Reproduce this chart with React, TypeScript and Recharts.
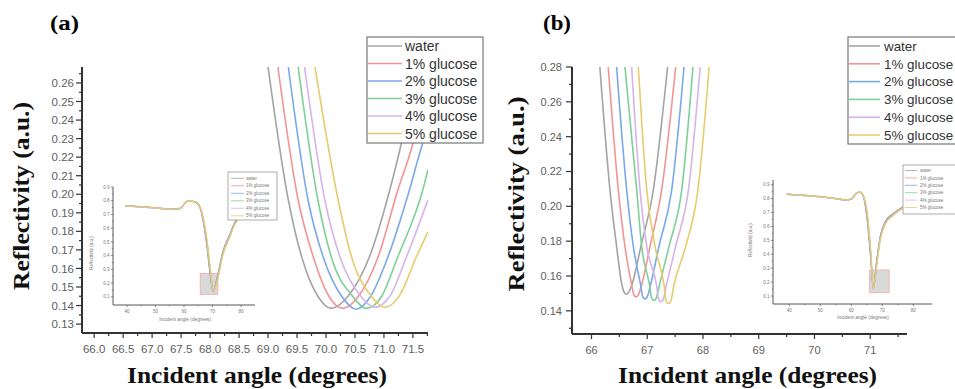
import React from 'react';
import { LineChart, Line, XAxis, YAxis, ReferenceArea } from 'recharts';

// ---------- shared ----------
const SERIES_NAMES = ['water', '1% glucose', '2% glucose', '3% glucose', '4% glucose', '5% glucose'];
const SERIES_COLORS = ['#a4a4a4', '#f29494', '#7aa8ea', '#7ecf98', '#d6b4ea', '#e6cc6c'];

// ---------- panel (a) main ----------
const aWaterX = [69.0, 69.35, 69.58, 69.86, 70.09, 70.38, 70.75, 71.1, 71.3, 71.55];
const aWaterY = [0.2686, 0.1969, 0.1663, 0.145, 0.1385, 0.145, 0.1663, 0.2023, 0.2275, 0.2686];
const aG1X = [69.17, 69.52, 69.78, 70.05, 70.29, 70.56, 70.9, 71.24, 71.5, 71.76];
const aG1Y = [0.2686, 0.1969, 0.1663, 0.145, 0.1385, 0.145, 0.1663, 0.2023, 0.2275, 0.265];
const aG2X = [69.35, 69.69, 69.95, 70.27, 70.52, 70.77, 71.07, 71.44, 71.67, 71.76];
const aG2Y = [0.2686, 0.1969, 0.1663, 0.145, 0.138, 0.145, 0.1663, 0.2023, 0.2275, 0.235];
const aG3X = [69.52, 69.86, 70.09, 70.46, 70.7, 70.96, 71.24, 71.67, 71.76];
const aG3Y = [0.2686, 0.1969, 0.1663, 0.145, 0.1385, 0.145, 0.1663, 0.2023, 0.2132];
const aG4X = [69.63, 69.98, 70.24, 70.6, 70.84, 71.1, 71.39, 71.76];
const aG4Y = [0.2686, 0.1969, 0.1663, 0.145, 0.139, 0.145, 0.1663, 0.197];
const aG5X = [69.81, 70.21, 70.44, 70.77, 71.01, 71.27, 71.56, 71.76];
const aG5Y = [0.2686, 0.1969, 0.1663, 0.1455, 0.139, 0.1455, 0.1663, 0.1797];

const aXMajor = [66.0, 66.5, 67.0, 67.5, 68.0, 68.5, 69.0, 69.5, 70.0, 70.5, 71.0, 71.5];
const aXMinor = [66.25, 66.75, 67.25, 67.75, 68.25, 68.75, 69.25, 69.75, 70.25, 70.75, 71.25, 71.75];
const aYMajor = [0.13, 0.14, 0.15, 0.16, 0.17, 0.18, 0.19, 0.2, 0.21, 0.22, 0.23, 0.24, 0.25, 0.26];
const aYMinor = [0.135, 0.145, 0.155, 0.165, 0.175, 0.185, 0.195, 0.205, 0.215, 0.225, 0.235, 0.245, 0.255, 0.265];

// ---------- panel (b) main ----------
const bWaterX = [66.15, 66.33, 66.45, 66.545, 66.585, 66.625, 66.665, 66.725, 66.886, 67.11, 67.365];
const bWaterY = [0.28, 0.2097, 0.177, 0.155, 0.1507, 0.1495, 0.1507, 0.155, 0.177, 0.2097, 0.28];
const bG1X = [66.3, 66.48, 66.6, 66.72, 66.76, 66.8, 66.84, 66.9, 67.05, 67.26, 67.51];
const bG1Y = [0.28, 0.2097, 0.177, 0.155, 0.1492, 0.148, 0.1492, 0.155, 0.177, 0.2097, 0.28];
const bG2X = [66.45, 66.63, 66.75, 66.88, 66.92, 66.96, 67.0, 67.06, 67.21, 67.44, 67.66];
const bG2Y = [0.28, 0.2097, 0.177, 0.155, 0.148, 0.1468, 0.148, 0.155, 0.177, 0.2097, 0.28];
const bG3X = [66.6, 66.81, 66.9, 67.04, 67.08, 67.12, 67.16, 67.22, 67.39, 67.62, 67.82];
const bG3Y = [0.28, 0.2097, 0.177, 0.155, 0.1472, 0.146, 0.1472, 0.155, 0.177, 0.2097, 0.28];
const bG4X = [66.72, 66.87, 66.99, 67.165, 67.205, 67.245, 67.285, 67.345, 67.51, 67.74, 67.95];
const bG4Y = [0.28, 0.2097, 0.177, 0.155, 0.1464, 0.1452, 0.1464, 0.155, 0.177, 0.2097, 0.28];
const bG5X = [66.84, 66.99, 67.14, 67.3, 67.34, 67.38, 67.42, 67.48, 67.69, 67.91, 68.11];
const bG5Y = [0.28, 0.2097, 0.177, 0.155, 0.1454, 0.1442, 0.1454, 0.155, 0.177, 0.2097, 0.28];

const bXMajor = [66, 67, 68, 69, 70, 71];
const bXMinor = [66.5, 67.5, 68.5, 69.5, 70.5, 71.5];
const bYMajor = [0.14, 0.16, 0.18, 0.2, 0.22, 0.24, 0.26, 0.28];
const bYMinor = [0.13, 0.15, 0.17, 0.19, 0.21, 0.23, 0.25, 0.27];

// ---------- inset (a) ----------
const insAX = [39.4, 45, 50, 56, 58.6, 61.4, 63.8, 65.5, 67.9, 69.4, 70.2, 71.6, 73.7, 76.1, 77.8, 80, 82];
const insAWater = [0.762, 0.755, 0.747, 0.737, 0.743, 0.798, 0.791, 0.755, 0.49, 0.225, 0.138, 0.24, 0.435, 0.557, 0.642, 0.7, 0.74];
const insAG1 = [0.764, 0.757, 0.749, 0.739, 0.745, 0.799, 0.792, 0.757, 0.5, 0.235, 0.137, 0.235, 0.43, 0.553, 0.638, 0.697, 0.738];
const insAG2 = [0.763, 0.756, 0.748, 0.738, 0.744, 0.798, 0.792, 0.758, 0.51, 0.245, 0.137, 0.228, 0.425, 0.549, 0.635, 0.695, 0.736];
const insAG3 = [0.762, 0.755, 0.747, 0.737, 0.744, 0.799, 0.793, 0.759, 0.52, 0.255, 0.138, 0.222, 0.42, 0.545, 0.632, 0.693, 0.734];
const insAG4 = [0.761, 0.754, 0.746, 0.736, 0.743, 0.798, 0.793, 0.76, 0.53, 0.265, 0.139, 0.216, 0.415, 0.541, 0.629, 0.691, 0.732];
const insAG5 = [0.763, 0.756, 0.748, 0.738, 0.745, 0.8, 0.794, 0.761, 0.54, 0.275, 0.14, 0.21, 0.41, 0.537, 0.626, 0.689, 0.73];

// ---------- inset (b) ----------
const insBX = [39.2, 46.7, 54.2, 58.5, 60.1, 61.6, 62.8, 63.9, 65.0, 66.3, 67.1, 68.2, 69.3, 70.9, 73.5, 76.8, 80, 84];
const insBWater = [0.831, 0.819, 0.802, 0.79, 0.797, 0.838, 0.845, 0.814, 0.67, 0.358, 0.155, 0.358, 0.526, 0.634, 0.694, 0.742, 0.76, 0.78];
const insBG1 = [0.833, 0.821, 0.804, 0.792, 0.799, 0.839, 0.846, 0.816, 0.68, 0.37, 0.154, 0.35, 0.52, 0.63, 0.691, 0.74, 0.758, 0.778];
const insBG2 = [0.832, 0.82, 0.803, 0.791, 0.798, 0.838, 0.846, 0.817, 0.69, 0.382, 0.153, 0.342, 0.514, 0.626, 0.688, 0.738, 0.756, 0.776];
const insBG3 = [0.831, 0.819, 0.802, 0.79, 0.798, 0.839, 0.847, 0.818, 0.7, 0.394, 0.154, 0.334, 0.508, 0.622, 0.685, 0.736, 0.754, 0.774];
const insBG4 = [0.83, 0.818, 0.801, 0.789, 0.797, 0.838, 0.847, 0.819, 0.71, 0.406, 0.155, 0.326, 0.502, 0.618, 0.682, 0.734, 0.752, 0.772];
const insBG5 = [0.832, 0.82, 0.803, 0.791, 0.799, 0.84, 0.848, 0.82, 0.72, 0.418, 0.156, 0.318, 0.496, 0.614, 0.679, 0.732, 0.75, 0.77];

const insXMajor = [40, 50, 60, 70, 80];
const insXMinor = [45, 55, 65, 75];
const insYMajor = [0.1, 0.2, 0.3, 0.4, 0.5, 0.6, 0.7, 0.8, 0.9];
const insYMinor = [0.15, 0.25, 0.35, 0.45, 0.55, 0.65, 0.75, 0.85];

// ---------- helpers ----------
const pts = (xs: number[], ys: number[]) => xs.map((x, i) => ({ x, y: ys[i] }));
const isIn = (arr: number[], v: number) => arr.some((m) => Math.abs(m - v) < 1e-6);
const sans = "'Liberation Sans', Arial, sans-serif";
const serif = "'Liberation Serif', 'Times New Roman', serif";

type TickOpts = {
  majors: number[];
  fmt: (v: number) => string;
  major: number;
  minor: number;
  gap: number;
  fontSize: number;
  stroke: string;
  sw: number;
  fill: string;
};

const makeXTick = (o: TickOpts) => (props: any) => {
  const { x, y, payload } = props;
  const v = payload.value;
  const mj = isIn(o.majors, v);
  return (
    <g>
      <line x1={x} x2={x} y1={y} y2={y + (mj ? o.major : o.minor)} stroke={o.stroke} strokeWidth={o.sw} />
      {mj && (
        <text x={x} y={y + o.gap} textAnchor="middle" fontSize={o.fontSize} fill={o.fill} stroke="none" fontFamily={sans}>
          {o.fmt(v)}
        </text>
      )}
    </g>
  );
};

const makeYTick = (o: TickOpts) => (props: any) => {
  const { x, y, payload } = props;
  const v = payload.value;
  const mj = isIn(o.majors, v);
  return (
    <g>
      <line x1={x} x2={x - (mj ? o.major : o.minor)} y1={y} y2={y} stroke={o.stroke} strokeWidth={o.sw} />
      {mj && (
        <text x={x - o.gap} y={y + o.fontSize * 0.36} textAnchor="end" fontSize={o.fontSize} fill={o.fill} stroke="none" fontFamily={sans}>
          {o.fmt(v)}
        </text>
      )}
    </g>
  );
};

const mainSeriesA = [pts(aWaterX, aWaterY), pts(aG1X, aG1Y), pts(aG2X, aG2Y), pts(aG3X, aG3Y), pts(aG4X, aG4Y), pts(aG5X, aG5Y)];
const mainSeriesB = [pts(bWaterX, bWaterY), pts(bG1X, bG1Y), pts(bG2X, bG2Y), pts(bG3X, bG3Y), pts(bG4X, bG4Y), pts(bG5X, bG5Y)];
const insetSeriesA = [insAWater, insAG1, insAG2, insAG3, insAG4, insAG5].map((ys) => pts(insAX, ys));
const insetSeriesB = [insBWater, insBG1, insBG2, insBG3, insBG4, insBG5].map((ys) => pts(insBX, ys));

const MainChart = (p: {
  left: number; width: number; margin: any; xDomain: number[]; yDomain: number[];
  xTicks: number[]; yTicks: number[]; xTick: any; yTick: any; series: any[];
}) => (
  <div style={{ position: 'absolute', left: p.left, top: 0 }}>
    <LineChart width={p.width} height={389} margin={p.margin}>
      <XAxis type="number" dataKey="x" domain={p.xDomain} allowDataOverflow ticks={p.xTicks} interval={0}
        tickSize={0} tickMargin={0} tick={p.xTick} height={30} axisLine={{ stroke: '#333', strokeWidth: 2 }} tickLine={false} />
      <YAxis type="number" dataKey="y" domain={p.yDomain} allowDataOverflow ticks={p.yTicks} interval={0}
        tickSize={0} tickMargin={0} tick={p.yTick} width={50} axisLine={{ stroke: '#333', strokeWidth: 2 }} tickLine={false} />
      {p.series.map((d, i) => (
        <Line key={i} data={d} dataKey="y" type="monotone" stroke={SERIES_COLORS[i]} strokeWidth={1.6}
          dot={false} isAnimationActive={false} />
      ))}
    </LineChart>
  </div>
);

const InsetChart = (p: {
  left: number; top: number; width: number; height: number; margin: any; xDomain: number[]; yDomain: number[];
  series: any[]; area: number[];
}) => {
  const xt = makeXTick({ majors: insXMajor, fmt: (v) => String(v), major: 2.2, minor: 1.2, gap: 7.5, fontSize: 4.5, stroke: '#444', sw: 0.6, fill: '#777' });
  const yt = makeYTick({ majors: insYMajor, fmt: (v) => v.toFixed(1), major: 2.2, minor: 1.2, gap: 3.5, fontSize: 4.5, stroke: '#444', sw: 0.6, fill: '#777' });
  return (
    <div style={{ position: 'absolute', left: p.left, top: p.top }}>
      <LineChart width={p.width} height={p.height} margin={p.margin}>
        <XAxis type="number" dataKey="x" domain={p.xDomain} allowDataOverflow ticks={[...insXMajor, ...insXMinor]} interval={0}
          tickSize={0} tickMargin={0} tick={xt} height={20} axisLine={{ stroke: '#444', strokeWidth: 0.9 }} tickLine={false} />
        <YAxis type="number" dataKey="y" domain={p.yDomain} allowDataOverflow ticks={[...insYMajor, ...insYMinor]} interval={0}
          tickSize={0} tickMargin={0} tick={yt} width={30} axisLine={{ stroke: '#444', strokeWidth: 0.9 }} tickLine={false} />
        <ReferenceArea x1={p.area[0]} x2={p.area[1]} y1={p.area[2]} y2={p.area[3]} fill="#d9d9d9" fillOpacity={1}
          stroke="#f2a6a6" strokeWidth={0.8} ifOverflow="visible" />
        {p.series.map((d, i) => (
          <Line key={i} data={d} dataKey="y" type="monotone" stroke={SERIES_COLORS[i]} strokeWidth={1.2}
            dot={false} isAnimationActive={false} />
        ))}
      </LineChart>
    </div>
  );
};

const LegendBox = (p: { x: number; y: number; w: number; h: number; y0: number; dy: number; l1: number; l2: number; tx: number; fs: number; color: string; sw: number; bw: number }) => (
  <g>
    <rect x={p.x} y={p.y} width={p.w} height={p.h} fill="#fff" stroke="#777" strokeWidth={p.bw} />
    {SERIES_NAMES.map((n, i) => (
      <g key={n}>
        <line x1={p.l1} x2={p.l2} y1={p.y0 + i * p.dy} y2={p.y0 + i * p.dy} stroke={SERIES_COLORS[i]} strokeWidth={p.sw} />
        <text x={p.tx} y={p.y0 + i * p.dy + p.fs * 0.36} fontSize={p.fs} fill={p.color} fontFamily={sans}>{n}</text>
      </g>
    ))}
  </g>
);

export default function App() {
  const aXT = makeXTick({ majors: aXMajor, fmt: (v) => v.toFixed(1), major: 5, minor: 3, gap: 20, fontSize: 11.5, stroke: '#333', sw: 1.2, fill: '#606060' });
  const aYT = makeYTick({ majors: aYMajor, fmt: (v) => v.toFixed(2), major: 6, minor: 3, gap: 8, fontSize: 11.5, stroke: '#333', sw: 1.2, fill: '#606060' });
  const bXT = makeXTick({ majors: bXMajor, fmt: (v) => String(v), major: 5, minor: 3, gap: 20, fontSize: 11, stroke: '#333', sw: 1.2, fill: '#606060' });
  const bYT = makeYTick({ majors: bYMajor, fmt: (v) => v.toFixed(2), major: 6, minor: 3, gap: 10, fontSize: 11, stroke: '#333', sw: 1.2, fill: '#606060' });

  return (
    <div style={{ position: 'absolute', left: 0, top: 0, width: 955, height: 389, background: '#fff', overflow: 'hidden' }}>
      <MainChart left={0} width={480} margin={{ top: 67, right: 52, bottom: 26, left: 32 }}
        xDomain={[65.79, 71.76]} yDomain={[0.1252, 0.2686]}
        xTicks={[...aXMajor, ...aXMinor]} yTicks={[...aYMajor, ...aYMinor]} xTick={aXT} yTick={aYT} series={mainSeriesA} />
      <MainChart left={480} width={475} margin={{ top: 67, right: 48, bottom: 25, left: 42 }}
        xDomain={[65.65, 71.66]} yDomain={[0.1267, 0.28]}
        xTicks={[...bXMajor, ...bXMinor]} yTicks={[...bYMajor, ...bYMinor]} xTick={bXT} yTick={bYT} series={mainSeriesB} />
      <InsetChart left={60} top={150} width={220} height={190} margin={{ top: 37, right: 25, bottom: 15, left: 23 }}
        xDomain={[35.1, 84.9]} yDomain={[0.04, 0.9]} series={insetSeriesA} area={[65.7, 71.9, 0.117, 0.27]} />
      <InsetChart left={720} top={150} width={235} height={190} margin={{ top: 30, right: 23, bottom: 16, left: 23 }}
        xDomain={[34.74, 86.03]} yDomain={[0.0425, 0.934]} series={insetSeriesB} area={[65.9, 72.2, 0.124, 0.287]} />
      <svg width={955} height={389} style={{ position: 'absolute', left: 0, top: 0, pointerEvents: 'none' }}>
        <text x={50} y={30} fontFamily={serif} fontWeight="bold" fontSize={20} textLength={29} lengthAdjust="spacingAndGlyphs">(a)</text>
        <text x={543} y={30} fontFamily={serif} fontWeight="bold" fontSize={20} textLength={28} lengthAdjust="spacingAndGlyphs">(b)</text>
        <text x={29} y={196} transform="rotate(-90 29 196)" textAnchor="middle" fontFamily={serif} fontWeight="bold"
          fontSize={23} textLength={188} lengthAdjust="spacingAndGlyphs" fill="#111">Reflectivity (a.u.)</text>
        <text x={524} y={194} transform="rotate(-90 524 194)" textAnchor="middle" fontFamily={serif} fontWeight="bold"
          fontSize={23} textLength={195} lengthAdjust="spacingAndGlyphs" fill="#111">Reflectivity (a.u.)</text>
        <text x={257} y={383} textAnchor="middle" fontFamily={serif} fontWeight="bold" fontSize={23}
          textLength={260} lengthAdjust="spacingAndGlyphs" fill="#111">Incident angle (degrees)</text>
        <text x={747.5} y={383} textAnchor="middle" fontFamily={serif} fontWeight="bold" fontSize={23}
          textLength={259} lengthAdjust="spacingAndGlyphs" fill="#111">Incident angle (degrees)</text>

        <LegendBox x={367} y={37} w={116} h={106} y0={46} dy={17.5} l1={368} l2={402} tx={405} fs={14} color="#333" sw={1.6} bw={1.2} />
        <LegendBox x={848} y={37} w={120} h={107} y0={46} dy={17.8} l1={849} l2={880} tx={884} fs={13.4} color="#333" sw={1.6} bw={1.2} />

        <LegendBox x={228} y={172} w={49} h={48} y0={178.3} dy={7.5} l1={231} l2={244} tx={246} fs={4.5} color="#777" sw={0.8} bw={0.6} />
        <LegendBox x={903} y={165} w={60} h={49} y0={170.5} dy={7.4} l1={905} l2={917} tx={920} fs={4.5} color="#777" sw={0.8} bw={0.6} />

        <text x={185} y={321} textAnchor="middle" fontSize={4.8} fill="#777" fontFamily={sans}>Incident angle (degrees)</text>
        <text x={93} y={253} transform="rotate(-90 93 253)" textAnchor="middle" fontSize={4.5} fill="#777" fontFamily={sans}>Reflectivity (a.u.)</text>
        <text x={863} y={319} textAnchor="middle" fontSize={4.8} fill="#777" fontFamily={sans}>Incident angle (degrees)</text>
        <text x={752} y={240} transform="rotate(-90 752 240)" textAnchor="middle" fontSize={4.5} fill="#777" fontFamily={sans}>Reflectivity (a.u.)</text>
      </svg>
    </div>
  );
}
